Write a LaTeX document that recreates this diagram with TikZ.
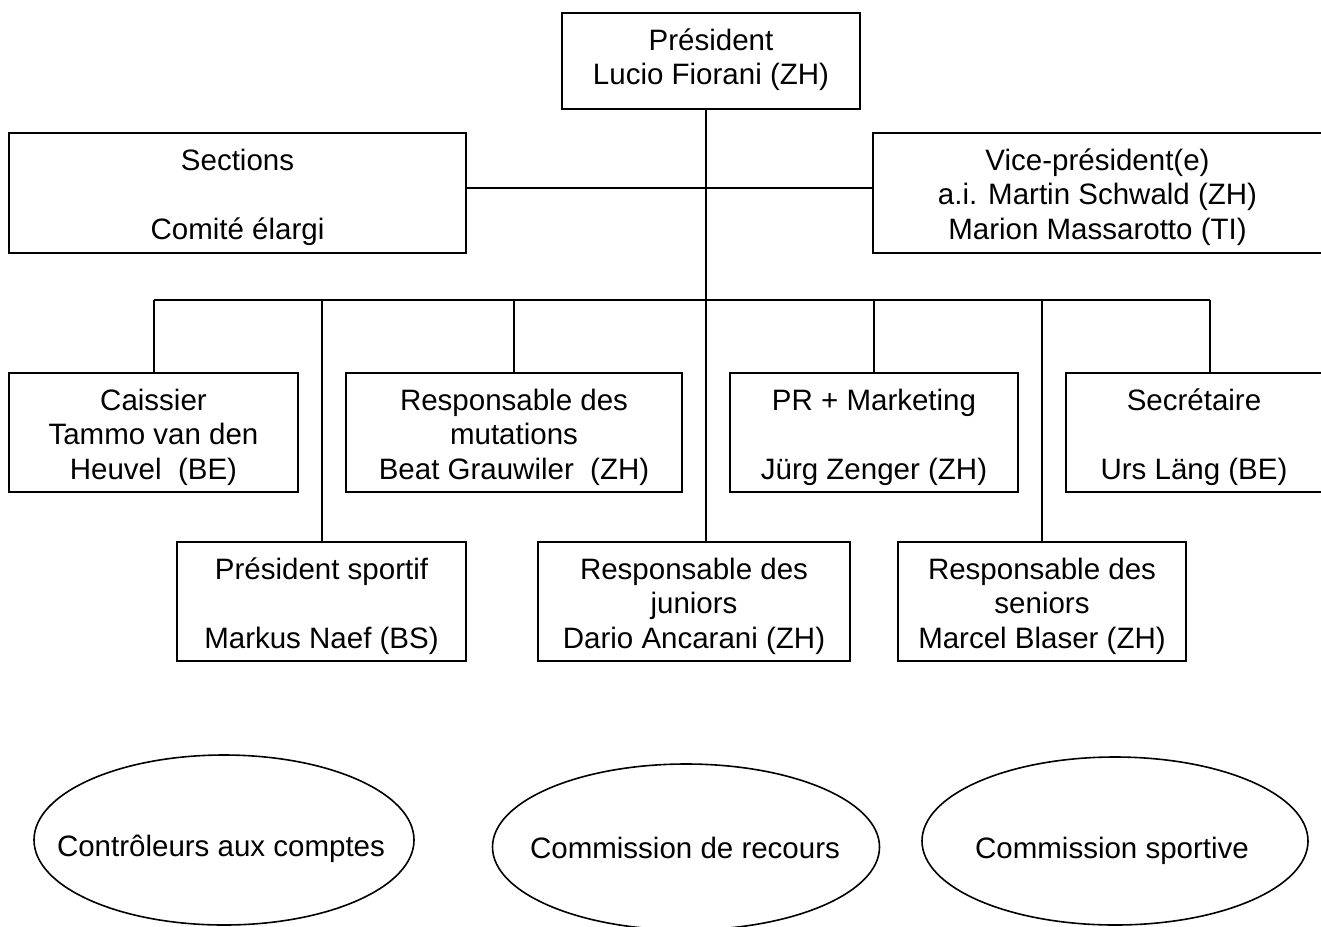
\documentclass[tikz,border=0pt]{standalone}
\usepackage{fontspec}
\setmainfont{Liberation Sans}
\usetikzlibrary{shapes.geometric}
\newcommand{\orgtext}[3]{\parbox[c][#2][t]{#1}{\centering\rule{0pt}{37pt}#3}}
\tikzset{
  orgbox/.style={draw, rectangle, line width=1.6pt, inner sep=0pt, outer sep=0pt},
  orgoval/.style={draw, ellipse, line width=1.6pt, inner sep=0pt},
  ovaltext/.style={anchor=base, inner sep=0pt},
  conn/.style={line width=1.6pt},
  every node/.style={font=\fontsize{29.5}{34.5}\selectfont}
}
\begin{document}
\begin{tikzpicture}[x=1pt, y=-1pt]
\clip (0,0) rectangle (1321,926);
\fill[white] (0,0) rectangle (1321,926);

% top
\node[orgbox] (pres) at (711,61) {\orgtext{298pt}{96pt}{Président\\Lucio Fiorani (ZH)}};
\node[orgbox] (sec) at (237.5,193) {\orgtext{457pt}{120pt}{Sections\\\mbox{}\\Comité élargi}};
\node[orgbox] (vice) at (1097.5,193) {\orgtext{449pt}{120pt}{Vice-président(e)\\a.i. Martin Schwald (ZH)\\Marion Massarotto (TI)}};

% middle row
\node[orgbox] (cais) at (153.5,432.5) {\orgtext{289pt}{119pt}{Caissier\\Tammo van den\\Heuvel\ \ (BE)}};
\node[orgbox] (mut) at (514,432.5) {\orgtext{336pt}{119pt}{Responsable des\\mutations\\Beat Grauwiler\ \ (ZH)}};
\node[orgbox] (pr) at (874,432.5) {\orgtext{288pt}{119pt}{PR + Marketing\\\mbox{}\\Jürg Zenger (ZH)}};
\node[orgbox] (secr) at (1194,432.5) {\orgtext{256pt}{119pt}{Secrétaire\\\mbox{}\\Urs Läng (BE)}};

% bottom row
\node[orgbox] (psport) at (321.5,601.5) {\orgtext{289pt}{119pt}{Président sportif\\\mbox{}\\Markus Naef (BS)}};
\node[orgbox] (jun) at (694,601.5) {\orgtext{312pt}{119pt}{Responsable des\\juniors\\Dario Ancarani (ZH)}};
\node[orgbox] (sen) at (1042,601.5) {\orgtext{288pt}{119pt}{Responsable des\\seniors\\Marcel Blaser (ZH)}};

% connectors
\coordinate (trunk) at (706,300);
\coordinate (barL) at (154,300);
\coordinate (barR) at (1210,300);
\draw[conn] (trunk |- pres.south) -- (trunk |- jun.north);
\draw[conn] (sec.east |- 0,188) -- (vice.west |- 0,188);
\draw[conn] (barL) -- (barR);
\draw[conn] (barL) -- (barL |- cais.north);
\draw[conn] (322,300) -- (322,300 |- psport.north);
\draw[conn] (514,300) -- (514,300 |- mut.north);
\draw[conn] (874,300) -- (874,300 |- pr.north);
\draw[conn] (1042,300) -- (1042,300 |- sen.north);
\draw[conn] (barR) -- (barR |- secr.north);

% ovals
\node[orgoval, minimum width=380pt, minimum height=170pt] (e1) at (224,840) {};
\node[orgoval, minimum width=387pt, minimum height=166pt] (e2) at (686,847) {};
\node[orgoval, minimum width=386pt, minimum height=168pt] (e3) at (1115,841) {};
\node[ovaltext] (t1) at (221,856) {Contrôleurs aux comptes};
\node[ovaltext] (t2) at (685,858) {Commission de recours};
\node[ovaltext] (t3) at (1112,858) {Commission sportive};
\end{tikzpicture}
\end{document}
